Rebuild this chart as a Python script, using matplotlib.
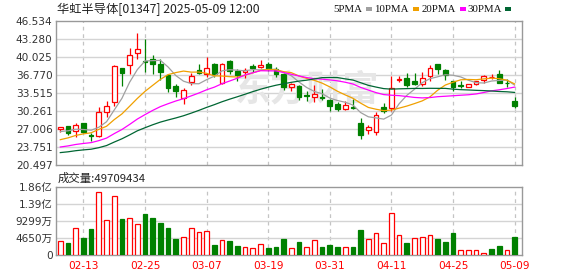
import matplotlib
matplotlib.use("Agg")
import matplotlib.pyplot as plt
from matplotlib.patches import Rectangle
import numpy as np

# ---------------- data ----------------
dates = ["02-10", "02-11", "02-12", "02-13", "02-14", "02-17", "02-18", "02-19", "02-20", "02-21",
         "02-24", "02-25", "02-26", "02-27", "02-28", "03-03", "03-04", "03-05", "03-06", "03-07",
         "03-10", "03-11", "03-12", "03-13", "03-14", "03-17", "03-18", "03-19", "03-20", "03-21",
         "03-24", "03-25", "03-26", "03-27", "03-28", "03-31", "04-01", "04-02", "04-03", "04-07",
         "04-08", "04-09", "04-10", "04-11", "04-14", "04-15", "04-16", "04-17", "04-22", "04-23",
         "04-24", "04-25", "04-28", "04-29", "04-30", "05-02", "05-06", "05-07", "05-08", "05-09"]

open_ = [27.09, 27.63, 26.61, 28.05, 26.01, 25.83, 30.15, 31.95, 38.00, 38.60,
         40.76, 39.32, 39.68, 38.84, 36.75, 34.77, 32.67, 35.43, 37.64, 36.93,
         38.84, 35.31, 39.26, 37.52, 37.34, 38.48, 38.30, 38.72, 37.82, 36.93,
         34.65, 34.71, 33.15, 32.85, 32.85, 32.19, 31.53, 30.69, 30.99, 28.05,
         26.85, 26.43, 30.93, 30.75, 35.85, 36.15, 35.73, 35.13, 36.62, 38.84,
         37.76, 35.73, 34.89, 34.65, 35.19, 35.85, 36.38, 37.04, 35.40, 32.13]
high = [27.45, 27.63, 28.05, 28.17, 26.31, 30.93, 32.01, 38.66, 38.12, 41.60,
        44.42, 43.34, 40.46, 39.62, 37.04, 35.13, 34.35, 37.10, 38.72, 40.10,
        38.96, 39.02, 39.50, 37.82, 38.00, 38.72, 39.44, 39.14, 38.24, 37.22,
        35.37, 35.01, 33.81, 35.01, 34.17, 32.43, 31.83, 32.01, 32.43, 28.95,
        27.75, 30.03, 31.65, 36.57, 36.57, 37.16, 37.22, 37.40, 38.54, 38.84,
        37.94, 35.73, 35.61, 35.13, 35.73, 36.86, 36.93, 37.64, 36.03, 32.73]
low = [26.55, 26.01, 25.65, 26.37, 24.81, 25.65, 29.25, 31.23, 34.83, 36.93,
       39.62, 37.34, 36.93, 35.91, 33.63, 32.73, 31.59, 34.95, 36.93, 36.45,
       36.33, 35.13, 36.93, 35.73, 36.21, 37.40, 38.00, 37.52, 36.33, 34.05,
       33.87, 32.31, 32.13, 31.95, 32.25, 30.21, 30.21, 30.45, 30.63, 25.17,
       26.13, 26.01, 29.85, 30.33, 35.43, 34.53, 34.95, 34.83, 35.73, 36.93,
       35.85, 33.81, 34.41, 34.59, 34.89, 35.31, 36.03, 35.25, 34.53, 30.81]
close = [27.45, 26.26, 27.81, 26.55, 25.83, 30.15, 31.23, 38.42, 37.10, 40.40,
         41.54, 39.08, 38.72, 37.34, 34.41, 33.81, 33.99, 36.50, 37.22, 38.12,
         36.93, 38.84, 37.52, 36.75, 37.64, 38.00, 38.54, 37.94, 36.93, 34.65,
         35.13, 32.85, 32.97, 33.33, 32.67, 31.17, 30.63, 31.41, 30.81, 25.89,
         27.33, 29.61, 30.33, 34.47, 36.09, 34.95, 35.13, 36.27, 38.06, 37.82,
         36.81, 34.65, 34.77, 35.07, 35.61, 36.50, 36.45, 35.31, 35.35, 31.11]
# closes of the 29 sessions before the window (estimated from the MA lines)
prior_close = [22.0, 21.8, 22.1, 22.2, 21.8, 19.8, 19.5, 19.3, 19.4, 19.3,
               22.3, 22.6, 22.9, 22.8, 23.0, 22.0, 22.3, 22.2, 22.0, 22.15,
               23.0, 23.4, 23.7, 23.9, 24.0, 25.6, 26.4, 26.8, 26.5]
# volume in millions of shares
volume = [38, 33, 73, 46, 71, 173, 97, 160, 98, 102,
          86, 111, 101, 87, 73, 44, 48, 75, 62, 67,
          27, 40, 38, 24, 21, 18, 29, 19, 22, 44,
          19, 35, 22, 40, 22, 27, 22, 22, 22, 68,
          44, 60, 32, 116, 56, 33, 46, 49, 54, 44,
          35, 60, 15, 13, 15, 5, 16, 24, 13, 49.709434]

price_ticks = ["20.497", "23.751", "27.006", "30.261", "33.515", "36.770", "40.025", "43.280", "46.534"]
vol_ticks = ["0", "4650万", "9299万", "1.39亿", "1.86亿"]
date_ticks = ["02-13", "02-25", "03-07", "03-19", "03-31", "04-11", "04-25", "05-09"]
ma_periods = [5, 10, 20, 30]
ma_names = ["5PMA", "10PMA", "20PMA", "30PMA"]
title = "华虹半导体[01347] 2025-05-09 12:00"
vol_label = "成交量:49709434"
watermark = "东方财富"

# ---------------- style ----------------
RED = "#ff0000"
GREEN = "#008000"
MA_COLORS = ["#a0a0a0", "#f0a000", "#ff00ff", "#006633"]
GRID = "#d4d4d4"
SPINE = "#999999"
CJK = ["DejaVu Sans", "Noto Sans CJK SC"]

W, H = 578, 276
fig = plt.figure(figsize=(W / 100, H / 100), dpi=100)


def rect(l, t, r, b):
    return [l / W, 1 - b / H, (r - l) / W, (b - t) / H]


ax = fig.add_axes(rect(56, 21, 522, 165))
axv = fig.add_axes(rect(56, 187, 522, 255))

n = len(close)
x = np.arange(n)
o = np.array(open_); h = np.array(high); l = np.array(low); c = np.array(close)
up = c >= o
bw = 0.62

ymin, ymax = float(price_ticks[0]), float(price_ticks[-1])
for a in (ax, axv):
    a.set_xlim(-0.56, n - 0.04)
    for s in a.spines.values():
        s.set_color(SPINE)
        s.set_linewidth(1.0)
    a.tick_params(length=0, labelsize=7.6, colors="#333333", pad=2.5)
    for gi in [dates.index(d) for d in date_ticks]:
        a.axvline(gi, color="#c4c4c4", lw=0.9, ls=(0, (3, 3)), zorder=0)

ax.set_ylim(ymin, ymax)
pt = np.linspace(ymin, ymax, len(price_ticks))
ax.set_yticks(pt)
ax.set_yticklabels(price_ticks)
ax.set_xticks([])
for yv in pt[1:-1]:
    ax.axhline(yv, color=GRID, lw=1.0, zorder=0)

# watermark (light, behind the candles)
ax.text(0.54, 0.52, watermark, transform=ax.transAxes, fontsize=26, color="#e6e6e6",
        fontweight="bold", family=["Noto Sans CJK SC"], ha="center", va="center", zorder=0.5)

# candles
for i in range(n):
    col = RED if up[i] else GREEN
    ax.vlines(x[i], l[i], h[i], color=col, lw=0.9, zorder=2)
    bot = min(o[i], c[i]); ht = max(abs(c[i] - o[i]), 0.02)
    ax.add_patch(Rectangle((x[i] - bw / 2, bot), bw, ht, facecolor="white" if up[i] else GREEN,
                           edgecolor=col, lw=0.9, zorder=3))

# moving averages
full = np.array(prior_close + close)
off = len(prior_close)
for p, colr in zip(ma_periods, MA_COLORS):
    ma = np.array([full[off + i - p + 1: off + i + 1].mean() for i in range(n)])
    ax.plot(x, ma, color=colr, lw=0.9, zorder=4)

# volume
vmax = 185.98
axv.set_ylim(0, vmax)
vt = np.linspace(0, vmax, len(vol_ticks))
axv.set_yticks(vt)
axv.set_yticklabels(vol_ticks, family=CJK)
for yv in vt[1:-1]:
    axv.axhline(yv, color=GRID, lw=1.0, zorder=0)
vup = [True] + [close[i] >= close[i - 1] for i in range(1, n)]
for i in range(n):
    col = RED if vup[i] else GREEN
    axv.add_patch(Rectangle((x[i] - bw / 2, 0), bw, volume[i], facecolor="white" if vup[i] else GREEN,
                            edgecolor=col, lw=0.9, zorder=3))
axv.set_xticks([dates.index(d) for d in date_ticks])
axv.set_xticklabels(date_ticks, color=RED)
axv.tick_params(axis="x", pad=4)

# texts
fig.text(57 / W, 1 - 9 / H, title, fontsize=8.8, family=["Noto Sans CJK SC"], color="#222222",
         ha="left", va="center")
fig.text(58 / W, 1 - 178 / H, vol_label, fontsize=8.2, family=["Noto Sans CJK SC"], color="#222222",
         ha="left", va="center")
leg_x = [362, 409, 456, 502]
sq_x = [366, 413, 460, 505]
for name, colr, tx, sx in zip(ma_names, MA_COLORS, leg_x, sq_x):
    fig.text(tx / W, 1 - 9 / H, name, fontsize=7.8, family=["Liberation Serif"], color="#111111",
             ha="right", va="center")
    fig.patches.append(Rectangle((sx / W, 1 - 10.5 / H), 6 / W, 3 / H, transform=fig.transFigure,
                                 facecolor=colr, edgecolor="none", figure=fig))

fig.savefig("out.png", dpi=100, facecolor="white")
